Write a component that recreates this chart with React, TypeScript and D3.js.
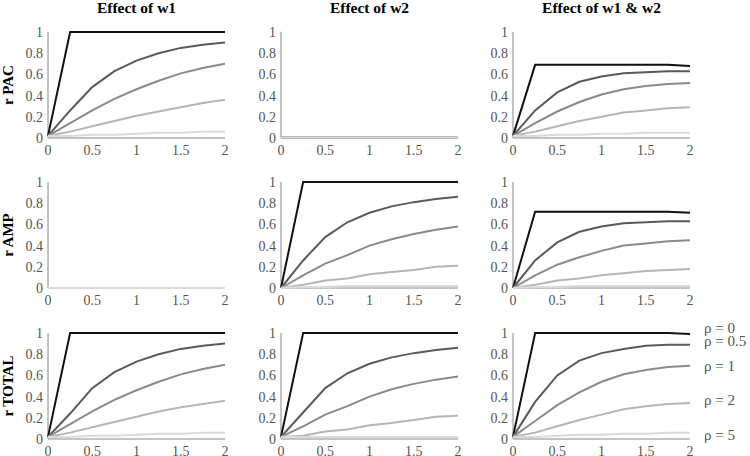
import React from 'react'
import * as d3 from 'd3'

// x values shared by every panel
const xs = [0, 0.25, 0.5, 0.75, 1, 1.25, 1.5, 1.75, 2]

const rhos = ['0', '0.5', '1', '2', '5']
const colTitles = ['Effect of w1', 'Effect of w2', 'Effect of w1 & w2']
const rowTitles = ['r PAC', 'r AMP', 'r TOTAL']
const xTicks = [0, 0.5, 1, 1.5, 2]
const yTicks = [0, 0.2, 0.4, 0.6, 0.8, 1]

// r PAC
const pacW1 = [
  [0.02, 1, 1, 1, 1, 1, 1, 1, 1],
  [0.02, 0.26, 0.48, 0.63, 0.73, 0.8, 0.85, 0.88, 0.9],
  [0.02, 0.14, 0.26, 0.37, 0.46, 0.54, 0.61, 0.66, 0.7],
  [0.02, 0.06, 0.11, 0.16, 0.21, 0.25, 0.29, 0.33, 0.36],
  [0.02, 0.02, 0.03, 0.03, 0.04, 0.05, 0.05, 0.06, 0.06],
]
const pacW2 = [
  [0.005, 0.005, 0.005, 0.005, 0.005, 0.005, 0.005, 0.005, 0.005],
  [0.005, 0.005, 0.005, 0.005, 0.005, 0.005, 0.005, 0.005, 0.005],
  [0.005, 0.005, 0.005, 0.005, 0.005, 0.005, 0.005, 0.005, 0.005],
  [0.005, 0.005, 0.005, 0.005, 0.005, 0.005, 0.005, 0.005, 0.005],
  [0.005, 0.005, 0.005, 0.005, 0.005, 0.005, 0.005, 0.005, 0.005],
]
const pacW12 = [
  [0.02, 0.69, 0.69, 0.69, 0.69, 0.69, 0.69, 0.69, 0.68],
  [0.02, 0.26, 0.43, 0.53, 0.58, 0.61, 0.62, 0.63, 0.63],
  [0.02, 0.14, 0.25, 0.34, 0.41, 0.46, 0.49, 0.51, 0.52],
  [0.02, 0.06, 0.11, 0.16, 0.2, 0.24, 0.26, 0.28, 0.29],
  [0.02, 0.02, 0.03, 0.03, 0.04, 0.04, 0.05, 0.05, 0.05],
]

// r AMP
const ampW1 = [
  [0, 0, 0, 0, 0, 0, 0, 0, 0],
  [0, 0, 0, 0, 0, 0, 0, 0, 0],
  [0, 0, 0, 0, 0, 0, 0, 0, 0],
  [0, 0, 0, 0, 0, 0, 0, 0, 0],
  [0, 0, 0, 0, 0, 0, 0, 0, 0],
]
const ampW2 = [
  [0, 1, 1, 1, 1, 1, 1, 1, 1],
  [0, 0.26, 0.48, 0.62, 0.71, 0.77, 0.81, 0.84, 0.86],
  [0, 0.12, 0.23, 0.31, 0.4, 0.46, 0.51, 0.55, 0.58],
  [0, 0.03, 0.07, 0.09, 0.13, 0.15, 0.17, 0.2, 0.21],
  [0, 0.01, 0.01, 0.02, 0.02, 0.02, 0.02, 0.02, 0.02],
]
const ampW12 = [
  [0, 0.72, 0.72, 0.72, 0.72, 0.72, 0.72, 0.72, 0.71],
  [0, 0.26, 0.43, 0.53, 0.58, 0.61, 0.62, 0.63, 0.63],
  [0, 0.12, 0.22, 0.29, 0.35, 0.4, 0.42, 0.44, 0.45],
  [0, 0.03, 0.07, 0.09, 0.12, 0.14, 0.16, 0.17, 0.18],
  [0, 0.01, 0.01, 0.02, 0.02, 0.02, 0.02, 0.02, 0.02],
]

// r TOTAL
const totW1 = [
  [0.02, 1, 1, 1, 1, 1, 1, 1, 1],
  [0.02, 0.24, 0.48, 0.63, 0.73, 0.8, 0.85, 0.88, 0.9],
  [0.02, 0.14, 0.26, 0.37, 0.46, 0.54, 0.61, 0.66, 0.7],
  [0.02, 0.06, 0.11, 0.16, 0.21, 0.26, 0.3, 0.33, 0.36],
  [0.02, 0.02, 0.03, 0.03, 0.04, 0.05, 0.05, 0.06, 0.06],
]
const totW2 = [
  [0.02, 1, 1, 1, 1, 1, 1, 1, 1],
  [0.02, 0.25, 0.48, 0.62, 0.71, 0.77, 0.81, 0.84, 0.86],
  [0.02, 0.12, 0.23, 0.31, 0.4, 0.47, 0.52, 0.56, 0.59],
  [0.02, 0.03, 0.07, 0.09, 0.13, 0.15, 0.18, 0.21, 0.22],
  [0.02, 0.02, 0.02, 0.02, 0.02, 0.02, 0.02, 0.02, 0.02],
]
const totW12 = [
  [0.02, 1, 1, 1, 1, 1, 1, 1, 0.99],
  [0.02, 0.35, 0.6, 0.74, 0.81, 0.85, 0.88, 0.89, 0.89],
  [0.02, 0.17, 0.32, 0.44, 0.54, 0.61, 0.65, 0.68, 0.69],
  [0.02, 0.06, 0.12, 0.18, 0.23, 0.28, 0.31, 0.33, 0.34],
  [0.02, 0.02, 0.03, 0.04, 0.04, 0.05, 0.05, 0.06, 0.06],
]

const grid = [
  [pacW1, pacW2, pacW12],
  [ampW1, ampW2, ampW12],
  [totW1, totW2, totW12],
]

const colors = ['#111111', '#5a5a5a', '#8a8a8a', '#b5b5b5', '#dadada']
const font = "'Liberation Serif', 'DejaVu Serif', serif"

const colX = [48, 281, 513]
const rowY = [32, 182, 333]
const pw = 177
const ph = 106

const x = d3.scaleLinear().domain([0, 2]).range([0, pw])
const y = d3.scaleLinear().domain([0, 1]).range([ph, 0])
const line = d3.line<number>()
  .x((d, i) => x(xs[i]))
  .y(d => y(d))

function Panel({ series, r, c }: { series: number[][], r: number, c: number }) {
  // small vertical shifts so the rho labels don't pile up
  const legendNudge = [-6, -4, 0, -3, 2]
  return (
    <g transform={`translate(${colX[c]},${rowY[r]})`}>
      <line x1={0} x2={0} y1={0} y2={ph} stroke="#888" />
      <line x1={0} x2={pw} y1={ph} y2={ph} stroke="#888" />
      {yTicks.map(t => (
        <text key={'y' + t} x={-5} y={y(t)} dy="0.35em" textAnchor="end"
          fontSize={14} fill="#555">{String(t)}</text>
      ))}
      {xTicks.map(t => (
        <text key={'x' + t} x={x(t)} y={ph + 17} textAnchor="middle"
          fontSize={14} fill="#555">{String(t)}</text>
      ))}
      {/* plotted in rho order, so the pale curves end up on top */}
      {series.map((s, i) => (
        <path key={i} d={line(s) || ''} fill="none" stroke={colors[i]} strokeWidth={2} />
      ))}
      {r === 2 && c === 2 && series.map((s, i) => (
        <text key={'l' + i} x={pw + 14} y={y(s[s.length - 1]) + legendNudge[i]} dy="0.35em"
          fontSize={15} fill="#555">{'\u03c1 = ' + rhos[i]}</text>
      ))}
    </g>
  )
}

export default function App() {
  return (
    <svg width={750} height={456} fontFamily={font}
      style={{ position: 'absolute', left: 0, top: 0, background: '#fff' }}>
      {colTitles.map((t, c) => (
        <text key={t} x={colX[c] + pw / 2} y={13} textAnchor="middle"
          fontWeight="bold" fontSize={15.5}>{t}</text>
      ))}
      {rowTitles.map((t, r) => (
        <text key={t} transform={`translate(13,${rowY[r] + ph / 2}) rotate(-90)`}
          textAnchor="middle" fontWeight="bold" fontSize={15}>{t}</text>
      ))}
      {grid.map((row, r) => row.map((series, c) => (
        <Panel key={r + '-' + c} series={series} r={r} c={c} />
      )))}
    </svg>
  )
}
